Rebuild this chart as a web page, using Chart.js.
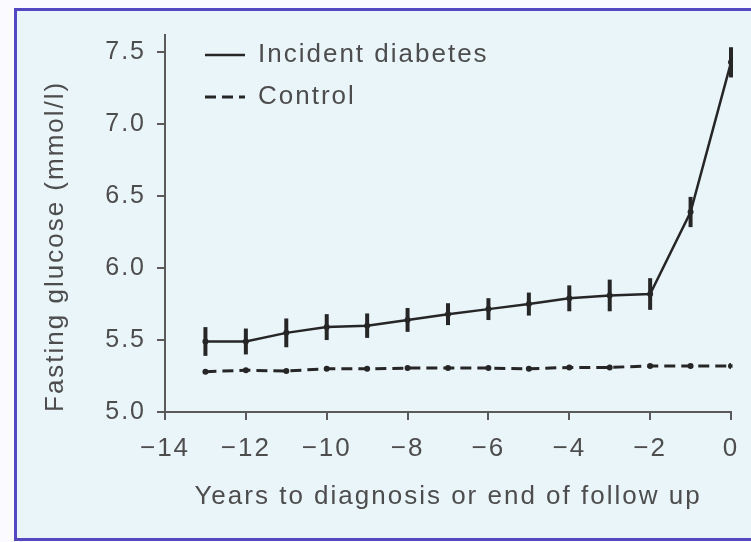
<!DOCTYPE html>
<html>
<head>
<meta charset="utf-8">
<script src="https://cdn.jsdelivr.net/npm/chart.js@4.4.1/dist/chart.umd.min.js"></script>
<style>
  html, body { margin: 0; padding: 0; width: 751px; height: 542px; overflow: hidden; background: #fbfbff; }
  #stage { position: absolute; left: 0; top: 0; width: 751px; height: 542px; overflow: hidden; }
  #frame { position: absolute; left: 14px; top: 8px; width: 760px; height: 527px;
           border: 3px solid #5448c2; border-right: none; background: #eaf5fa; }
  #chart { position: absolute; left: 0; top: 0; }
</style>
</head>
<body>
<div id="stage">
  <div id="frame"></div>
  <canvas id="chart" width="751" height="542"></canvas>
</div>
<script>
// Years relative to diagnosis (or end of follow up)
const years = [-13, -12, -11, -10, -9, -8, -7, -6, -5, -4, -3, -2, -1, 0];

// Mean fasting glucose (mmol/l) and half-width of the error bars
const incidentGlucose = [5.49, 5.49, 5.55, 5.59, 5.60, 5.64, 5.68, 5.715, 5.75, 5.79, 5.81, 5.82, 6.39, 7.43];
const incidentError   = [0.10, 0.09, 0.10, 0.09, 0.085, 0.083, 0.076, 0.076, 0.08, 0.09, 0.11, 0.11, 0.105, 0.105];
const controlGlucose  = [5.28, 5.29, 5.285, 5.30, 5.30, 5.305, 5.305, 5.305, 5.30, 5.31, 5.31, 5.32, 5.32, 5.32];
const controlError    = [0.012, 0.012, 0.012, 0.012, 0.012, 0.012, 0.012, 0.012, 0.012, 0.012, 0.012, 0.012, 0.012, 0.012];

const seriesNames = ['Incident diabetes', 'Control'];
const xTicks = [-14, -12, -10, -8, -6, -4, -2, 0];
const yTicks = [5.0, 5.5, 6.0, 6.5, 7.0, 7.5];
const xTitle = 'Years to diagnosis or end of follow up';
const yTitle = 'Fasting glucose (mmol/l)';

const FONT = '"Liberation Sans", Arial, Helvetica, sans-serif';
const TEXT = '#4d4d4d';
const AXIS = '#5a5a5a';
const INK = '#262626';

const toPoints = (vals) => years.map((yr, i) => ({ x: yr, y: vals[i] }));

// Vertical error bars drawn through the chart's own scales
const errorBars = {
  id: 'errorBars',
  afterDatasetsDraw(chart) {
    const { ctx, scales: { x, y } } = chart;
    chart.data.datasets.forEach((ds) => {
      if (!ds.errors) return;
      ctx.save();
      ctx.strokeStyle = ds.borderColor;
      ctx.lineWidth = ds.errorWidth;
      ctx.setLineDash([]);
      ds.data.forEach((p, j) => {
        const px = x.getPixelForValue(p.x);
        ctx.beginPath();
        ctx.moveTo(px, y.getPixelForValue(p.y - ds.errors[j]));
        ctx.lineTo(px, y.getPixelForValue(p.y + ds.errors[j]));
        ctx.stroke();
      });
      ctx.restore();
    });
  }
};

// Slightly tracked lettering for all chart text
const textSpacing = {
  id: 'textSpacing',
  beforeUpdate(chart) { chart.ctx.letterSpacing = '2px'; },
  beforeDraw(chart) { chart.ctx.letterSpacing = '2px'; }
};

// Place the in-plot legend in the upper left corner
const legendPlacement = {
  id: 'legendPlacement',
  afterLayout(chart) {
    const lg = chart.legend;
    const w = lg.right - lg.left, h = lg.bottom - lg.top;
    lg.left = chart.chartArea.left + 24;
    lg.top = chart.chartArea.top - 9;
    lg.right = lg.left + w;
    lg.bottom = lg.top + h;
  }
};

new Chart(document.getElementById('chart'), {
  type: 'line',
  data: {
    datasets: [
      {
        label: seriesNames[0],
        data: toPoints(incidentGlucose),
        errors: incidentError,
        errorWidth: 4,
        borderColor: INK,
        backgroundColor: INK,
        borderWidth: 2.5,
        pointRadius: 3,
        pointBorderWidth: 0,
        pointBackgroundColor: INK,
        tension: 0
      },
      {
        label: seriesNames[1],
        data: toPoints(controlGlucose),
        errors: controlError,
        errorWidth: 3,
        borderColor: INK,
        backgroundColor: INK,
        borderWidth: 3,
        borderDash: [11, 6],
        pointRadius: 3,
        pointBorderWidth: 0,
        pointBackgroundColor: INK,
        tension: 0
      }
    ]
  },
  options: {
    responsive: false,
    animation: false,
    devicePixelRatio: 1,
    layout: { padding: { left: 0, top: 35, right: 20, bottom: 0 } },
    plugins: {
      tooltip: { enabled: false },
      legend: {
        position: 'chartArea',
        align: 'start',
        labels: {
          usePointStyle: true,
          pointStyle: 'line',
          pointStyleWidth: 40,
          padding: 16,
          color: TEXT,
          font: { family: FONT, size: 26 },
          generateLabels(chart) {
            const items = Chart.defaults.plugins.legend.labels.generateLabels(chart);
            items.forEach((it) => {
              const ds = chart.data.datasets[it.datasetIndex];
              it.pointStyle = 'line';
              it.lineWidth = ds.borderWidth;
              it.lineDash = ds.borderDash || [];
              it.strokeStyle = ds.borderColor;
            });
            return items;
          }
        }
      }
    },
    scales: {
      x: {
        type: 'linear',
        min: -14,
        max: 0,
        afterBuildTicks: (s) => { s.ticks = xTicks.map((v) => ({ value: v })); },
        afterFit: (s) => { s.height = 130; },
        ticks: {
          autoSkip: false,
          maxRotation: 0,
          padding: 11,
          color: TEXT,
          font: { family: FONT, size: 26, lineHeight: 1.38 },
          callback: (v) => (v < 0 ? '\u2212' + Math.abs(v) : String(v))
        },
        grid: { drawOnChartArea: false, drawTicks: true, tickLength: 8, color: AXIS, lineWidth: 2 },
        border: { display: true, color: AXIS, width: 2 },
        title: {
          display: true,
          text: xTitle,
          color: TEXT,
          font: { family: FONT, size: 26 },
          padding: { top: 0, bottom: 30 }
        }
      },
      y: {
        type: 'linear',
        min: 5.0,
        max: 7.62,
        afterBuildTicks: (s) => { s.ticks = yTicks.map((v) => ({ value: v })); },
        afterFit: (s) => { s.width = 165; },
        ticks: {
          padding: 11,
          color: TEXT,
          font: { family: FONT, size: 25 },
          callback: (v) => Number(v).toFixed(1)
        },
        grid: { drawOnChartArea: false, drawTicks: true, tickLength: 8, color: AXIS, lineWidth: 2 },
        border: { display: true, color: AXIS, width: 2 },
        title: {
          display: true,
          text: yTitle,
          align: 'start',
          color: TEXT,
          font: { family: FONT, size: 26 },
          padding: { top: 40, bottom: 0 }
        }
      }
    }
  },
  plugins: [textSpacing, errorBars, legendPlacement]
});
</script>
</body>
</html>
